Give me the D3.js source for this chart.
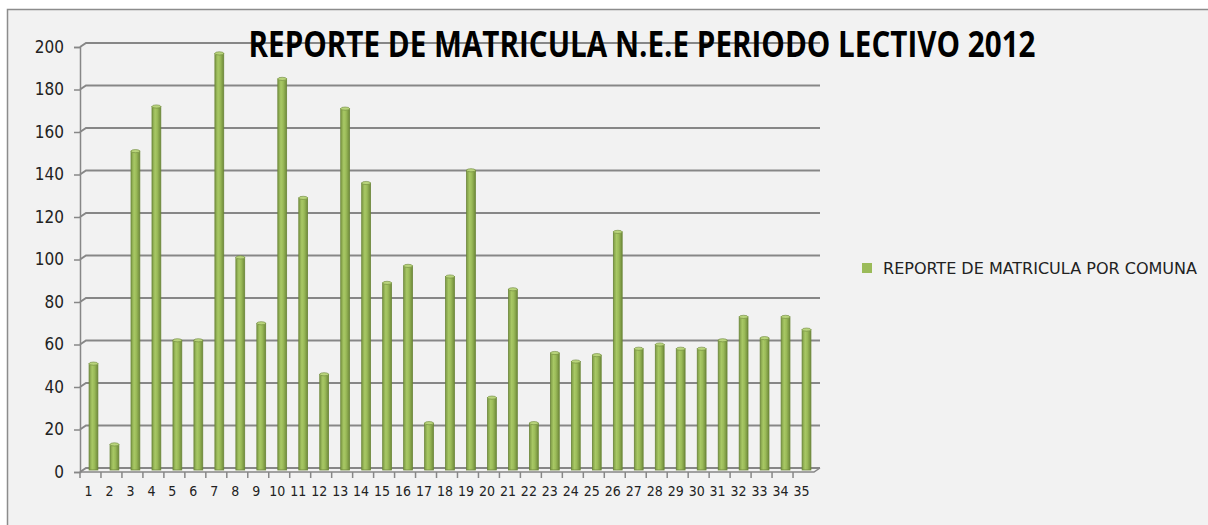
<!DOCTYPE html>
<html>
<head>
<meta charset="utf-8">
<script src="https://cdn.jsdelivr.net/npm/d3@7"></script>
<style>
  body { margin: 0; background: #ffffff; }
  svg { display: block; }
</style>
</head>
<body>
<script>
var categories = d3.range(1, 36).map(String);
var values = [51, 13, 151, 172, 62, 62, 197, 101, 70, 185,
              129, 46, 171, 136, 89, 97, 23, 92, 142, 35,
              86, 23, 56, 52, 55, 113, 58, 60, 58, 58,
              62, 73, 63, 73, 67];
var yTicks = [0, 20, 40, 60, 80, 100, 120, 140, 160, 180, 200];
var titleText = "REPORTE DE MATRICULA N.E.E PERIODO LECTIVO 2012";
var legendText = "REPORTE DE MATRICULA POR COMUNA";

var W = 1208, H = 525;
var depthX = 6, depthY = -4;   // 3d offset of the back wall
var narrow = "'DejaVu Sans Condensed', 'Open Sans', sans-serif";

var svg = d3.select("body").append("svg")
  .attr("width", W)
  .attr("height", H);

// chart area
svg.append("rect")
  .attr("x", 7.5).attr("y", 9.5)
  .attr("width", W + 10).attr("height", H + 10)
  .attr("fill", "#f2f2f2")
  .attr("stroke", "#8c8c8c")
  .attr("stroke-width", 1.5);

var defs = svg.append("defs");
var grad = defs.append("linearGradient").attr("id", "barGrad")
  .attr("x1", "0%").attr("x2", "100%").attr("y1", "0%").attr("y2", "0%");
grad.append("stop").attr("offset", "0%").attr("stop-color", "#7d9a45");
grad.append("stop").attr("offset", "35%").attr("stop-color", "#a8c865");
grad.append("stop").attr("offset", "60%").attr("stop-color", "#9bbb59");
grad.append("stop").attr("offset", "100%").attr("stop-color", "#6f8a3a");

var x = d3.scaleBand().domain(categories).range([83, 817]).paddingInner(0.58).paddingOuter(0.29);
var xStep = d3.scaleBand().domain(categories).range([80, 814]);
var y = d3.scaleLinear().domain([0, 200]).range([472, 47]);

// back wall gridlines with the slanted left side
var grid = svg.append("g");
yTicks.forEach(function(t) {
  grid.append("path")
    .attr("d", "M80," + y(t) + "L" + (80 + depthX) + "," + (y(t) + depthY) + "L" + (820) + "," + (y(t) + depthY))
    .attr("fill", "none")
    .attr("stroke", "#878787")
    .attr("stroke-width", 2);
});

// y axis
var yAxis = svg.append("g").attr("transform", "translate(80,0)")
  .call(d3.axisLeft(y).tickValues(yTicks).tickSize(6).tickPadding(10));
yAxis.select(".domain").attr("stroke", "#878787").attr("stroke-width", 1.5);
yAxis.selectAll(".tick line").attr("stroke", "#878787").attr("stroke-width", 1.5);
yAxis.selectAll(".tick text")
  .attr("font-family", narrow)
  .attr("font-size", 17)
  .attr("fill", "#222");

// floor front edge and right slant
svg.append("path")
  .attr("d", "M80," + y(0) + "L" + 814 + "," + y(0) + "L" + (820) + "," + (y(0) + depthY))
  .attr("fill", "none").attr("stroke", "#878787").attr("stroke-width", 1.5);

// x axis
var xAxis = svg.append("g").attr("transform", "translate(0," + y(0) + ")")
  .call(d3.axisBottom(xStep).tickSize(0).tickPadding(14));
xAxis.select(".domain").remove();
xAxis.selectAll(".tick text")
  .attr("dx", -2)
  .attr("font-family", narrow)
  .attr("font-size", 14)
  .attr("fill", "#222");
svg.append("g").selectAll("line")
  .data(categories)
  .enter().append("line")
  .attr("x1", function(d) { return xStep(d); })
  .attr("x2", function(d) { return xStep(d); })
  .attr("y1", y(0))
  .attr("y2", y(0) + 6)
  .attr("stroke", "#878787").attr("stroke-width", 1.5);

// bars
var bars = svg.append("g").selectAll("g")
  .data(values)
  .enter().append("g");
bars.append("rect")
  .attr("x", function(d, i) { return x(categories[i]); })
  .attr("y", function(d) { return y(d); })
  .attr("width", x.bandwidth())
  .attr("height", function(d) { return y(0) - 2 - y(d); })
  .attr("fill", "url(#barGrad)")
  .attr("stroke", "#6b8638")
  .attr("stroke-width", 0.8);
bars.append("ellipse")
  .attr("cx", function(d, i) { return x(categories[i]) + x.bandwidth() / 2; })
  .attr("cy", function(d) { return y(d); })
  .attr("rx", x.bandwidth() / 2)
  .attr("ry", 1.6)
  .attr("fill", "#b9d47c")
  .attr("stroke", "#6b8638")
  .attr("stroke-width", 0.6);

// title
svg.append("text")
  .attr("x", 642).attr("y", 57)
  .attr("text-anchor", "middle")
  .attr("font-family", "'Open Sans', sans-serif")
  .attr("font-weight", "bold")
  .attr("font-size", 36)
  .attr("textLength", 787)
  .attr("lengthAdjust", "spacingAndGlyphs")
  .attr("fill", "#000")
  .text(titleText);

// legend
svg.append("rect")
  .attr("x", 862).attr("y", 263)
  .attr("width", 10).attr("height", 10)
  .attr("fill", "#9bbb59");
svg.append("text")
  .attr("x", 883).attr("y", 274)
  .attr("font-family", narrow)
  .attr("font-size", 16)
  .attr("textLength", 314)
  .attr("lengthAdjust", "spacingAndGlyphs")
  .attr("fill", "#222")
  .text(legendText);
</script>
</body>
</html>
